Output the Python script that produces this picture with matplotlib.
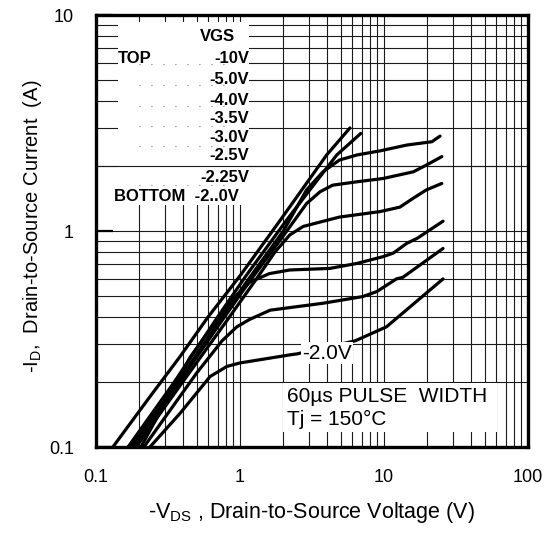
import numpy as np
import matplotlib
matplotlib.use("Agg")
import matplotlib.pyplot as plt
from matplotlib.patches import Rectangle

plt.rcParams['font.family'] = ['Liberation Sans', 'DejaVu Sans']

# -VDS (V) / -ID (A), one pair of lists per VGS
vds_10 = [0.131, 0.237, 0.383, 0.6, 1.0, 1.9, 4.0, 5.8]
id_10 = [0.1, 0.171, 0.262, 0.4, 0.62, 1.12, 2.25, 3.0]

vds_5 = [0.167, 0.35, 0.7, 1.1, 2.1, 4.7, 6.9]
id_5 = [0.1, 0.2, 0.4, 0.62, 1.12, 2.25, 2.83]

vds_4 = [0.175, 0.37, 0.75, 1.15, 2.0, 2.9, 3.77, 4.9, 6.5, 9.4, 14.4, 21.5, 24.5]
id_4 = [0.1, 0.2, 0.4, 0.6, 1.0, 1.55, 1.88, 2.13, 2.25, 2.35, 2.5, 2.59, 2.75]

vds_35 = [0.18, 0.38, 0.78, 1.2, 2.0, 2.9, 3.6, 4.4, 6.5, 9.85, 16, 19.7, 25.2]
id_35 = [0.1, 0.2, 0.4, 0.6, 0.95, 1.34, 1.52, 1.63, 1.69, 1.75, 1.88, 2.02, 2.21]

vds_3 = [0.19, 0.4, 0.8, 1.3, 1.75, 2.22, 2.75, 3.6, 4.9, 9.4, 12.9, 16, 19.7, 25.2]
id_3 = [0.1, 0.2, 0.38, 0.6, 0.8, 0.96, 1.05, 1.10, 1.16, 1.23, 1.29, 1.42, 1.55, 1.66]

vds_25 = [0.205, 0.45, 0.85, 1.17, 1.6, 2.22, 4.2, 6.5, 9.8, 11.6, 14.4, 17, 25.7]
id_25 = [0.1, 0.26, 0.47, 0.58, 0.635, 0.66, 0.671, 0.708, 0.76, 0.79, 0.877, 0.925, 1.11]

vds_225 = [0.215, 0.5, 0.75, 0.95, 1.17, 1.62, 3.78, 7.1, 8.9, 12.2, 13.5, 25.7]
id_225 = [0.1, 0.22, 0.31, 0.36, 0.39, 0.43, 0.463, 0.497, 0.524, 0.6, 0.61, 0.83]

vds_2 = [0.237, 0.383, 0.62, 0.81, 1.0, 2.22, 2.5, 6.3, 10.4, 13.5, 25.7]
id_2 = [0.1, 0.143, 0.212, 0.236, 0.245, 0.267, 0.27, 0.31, 0.36, 0.417, 0.6]

curves = [(vds_10, id_10), (vds_5, id_5), (vds_4, id_4), (vds_35, id_35),
          (vds_3, id_3), (vds_25, id_25), (vds_225, id_225), (vds_2, id_2)]

legend_labels = ["-10V", "-5.0V", "-4.0V", "-3.5V", "-3.0V", "-2.5V", "-2.25V"]

fig = plt.figure(figsize=(5.52, 5.33), dpi=100)
ax = fig.add_axes([96 / 552, 86 / 533, 432 / 552, 432 / 533])
ax.set_xscale('log')
ax.set_yscale('log')
ax.set_xlim(0.1, 100)
ax.set_ylim(0.1, 10)

ax.grid(True, which='both', color='0.1', linewidth=0.8)
ax.set_axisbelow(True)

for v, i in curves:
    ax.plot(v, i, color='black', linewidth=2.3, solid_capstyle='round', zorder=3)

# white patch behind the VGS list
ax.add_patch(Rectangle((0.051, 0.56), 0.303, 0.424, transform=ax.transAxes,
                       facecolor='white', edgecolor='none', zorder=2))
ax.axhline(2, color='0.1', linewidth=0.8, zorder=2.1)

# legend text
ax.text(0.322, 0.95, "VGS", transform=ax.transAxes, ha='right', va='center',
        fontsize=12, fontweight='bold', zorder=4)
ax.text(0.05, 0.9, "TOP", transform=ax.transAxes, ha='left', va='center',
        fontsize=12, fontweight='bold', zorder=4)
row_y = [0.9, 0.85, 0.803, 0.76, 0.716, 0.674, 0.625]
for lab, yy in zip(legend_labels, row_y):
    ax.text(0.354, yy, lab, transform=ax.transAxes, ha='right', va='center',
            fontsize=12, fontweight='bold', zorder=4)
ax.text(0.331, 0.581, "BOTTOM  -2..0V", transform=ax.transAxes, ha='right', va='center',
        fontsize=12, fontweight='bold', zorder=4,
        bbox=dict(facecolor='white', edgecolor='none', pad=1))
for yy in [0.887, 0.838, 0.789, 0.743, 0.697, 0.606]:
    ax.plot([0.1, 0.3], [yy, yy], transform=ax.transAxes, color='0.35',
            linewidth=0.8, linestyle=(0, (0.8, 10)), zorder=3)

# -2.0V tag sitting on the lowest curve
ax.text(4.02, 0.272, "-2.0V", ha='center', va='center', fontsize=15, zorder=5,
        bbox=dict(facecolor='white', edgecolor='none', pad=1))

# pulse note
ax.add_patch(Rectangle((0.433, 0.035), 0.495, 0.113, transform=ax.transAxes,
                       facecolor='white', edgecolor='none', zorder=2))
ax.text(0.443, 0.116, "60\u00b5s PULSE  WIDTH", transform=ax.transAxes,
        ha='left', va='center', fontsize=15, zorder=4)
ax.text(0.443, 0.063, "Tj = 150\u00b0C", transform=ax.transAxes,
        ha='left', va='center', fontsize=15, zorder=4)

for s in ax.spines.values():
    s.set_linewidth(2.4)
    s.set_zorder(6)

ax.set_xticks([0.1, 1, 10, 100])
ax.set_xticklabels(["0.1", "1", "10", "100"])
ax.set_yticks([0.1, 1, 10])
ax.set_yticklabels(["0.1", "1", "10"])
ax.tick_params(which='major', direction='in', length=12, width=1.6,
               labelsize=13, top=True, right=False, pad=16)
ax.tick_params(axis='x', which='major', length=0, pad=16)
ax.tick_params(which='minor', length=0)

ax.set_xlabel("-V$_{\\mathregular{DS}}$ , Drain-to-Source Voltage (V)", fontsize=15.5, labelpad=10)
ax.set_ylabel("-I$_{\\mathregular{D}}$,  Drain-to-Source Current  (A)", fontsize=14.5)
ax.yaxis.set_label_coords(-0.12, 0.51)

fig.savefig("out.png", dpi=100)
